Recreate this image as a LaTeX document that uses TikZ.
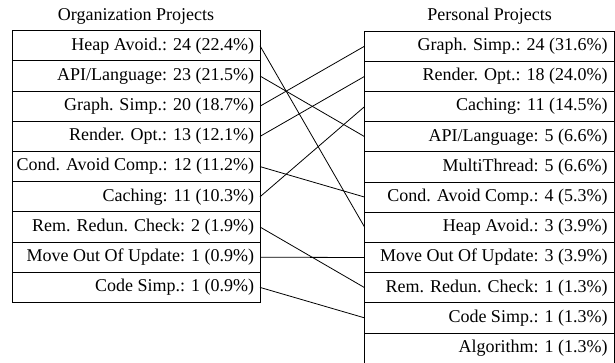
\documentclass[tikz,border=0pt]{standalone}
\usepackage{fontspec}
\setmainfont{Liberation Serif}
\begin{document}
\begin{tikzpicture}[x=1pt,y=-1pt,
  cell/.style={draw,line width=0.9pt,rectangle,minimum height=30.2pt,inner sep=0pt,outer sep=0pt,
    font=\fontsize{18}{22}\selectfont},
  lcell/.style={cell,minimum width=247.7pt},
  rcell/.style={cell,minimum width=249.3pt},
  title/.style={font=\fontsize{18}{22}\selectfont,inner sep=0pt},
  conn/.style={line width=0.8pt}]
\useasboundingbox (0,0) rectangle (615,362);
\clip (0,0) rectangle (615,362);
\node[title] (tl) at (136,16) {Organization Projects};
\node[title] (tr) at (489.5,16) {Personal Projects};
\foreach \t [count=\i] in {Heap Avoid.: 24 (22.4\%),API/Language: 23 (21.5\%),Graph. Simp.: 20 (18.7\%),Render. Opt.: 13 (12.1\%),Cond. Avoid Comp.: 12 (11.2\%),Caching: 11 (10.3\%),Rem. Redun. Check: 2 (1.9\%),Move Out Of Update: 1 (0.9\%),Code Simp.: 1 (0.9\%)}
  \node[lcell] (l\i) at (136.15,{30.7+15.1+30.2*(\i-1)}) {\makebox[235.7pt][r]{\t}};
\foreach \t [count=\i] in {Graph. Simp.: 24 (31.6\%),Render. Opt.: 18 (24.0\%),Caching: 11 (14.5\%),API/Language: 5 (6.6\%),MultiThread: 5 (6.6\%),Cond. Avoid Comp.: 4 (5.3\%),Heap Avoid.: 3 (3.9\%),Move Out Of Update: 3 (3.9\%),Rem. Redun. Check: 1 (1.3\%),Code Simp.: 1 (1.3\%),Algorithm: 1 (1.3\%)}
  \node[rcell] (r\i) at (489.35,{31+15.1+30.2*(\i-1)}) {\makebox[236.3pt][r]{\t}};
\draw[conn] (l1.east) -- (r7.west);
\draw[conn] (l2.east) -- (r4.west);
\draw[conn] (l3.east) -- (r1.west);
\draw[conn] (l4.east) -- (r2.west);
\draw[conn] (l5.east) -- (r6.west);
\draw[conn] (l6.east) -- (r3.west);
\draw[conn] (l7.east) -- (r9.west);
\draw[conn] (l8.east) -- (r8.west);
\draw[conn] (l9.east) -- (r10.west);
\end{tikzpicture}
\end{document}
